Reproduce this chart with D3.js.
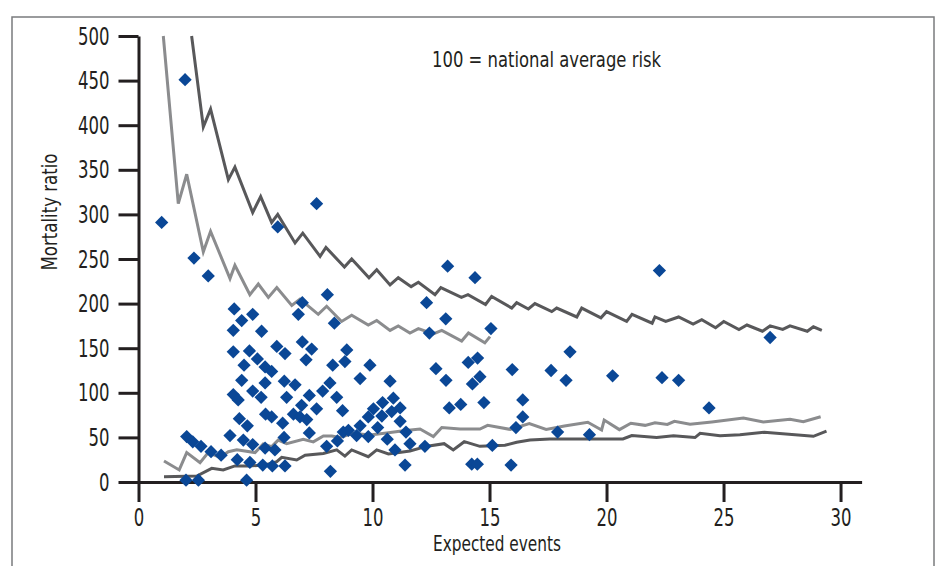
<!DOCTYPE html>
<html>
<head>
<meta charset="utf-8">
<script src="https://cdn.jsdelivr.net/npm/d3@7"></script>
<style>
  html, body { margin: 0; padding: 0; background: #fff; }
  svg { display: block; }
  text { font-family: "DejaVu Sans", "Liberation Sans", sans-serif; font-stretch: condensed; fill: #231f20; }
</style>
</head>
<body>
<svg id="chart" width="936" height="566"></svg>
<script>
// ---------- data ----------
const xTicks = [0, 5, 10, 15, 20, 25, 30];
const yTicks = [0, 50, 100, 150, 200, 250, 300, 350, 400, 450, 500];

// hospitals: expected events vs mortality ratio
const expectedEvents = [
  1.99, 0.99, 5.95, 2.37, 2.98, 7.61,
  4.09, 4.88, 4.41, 4.05, 5.26, 7.0, 6.83, 8.07, 8.37,
  4.05, 4.74, 5.08, 4.51, 5.91, 6.26, 7.0, 7.4, 7.16, 8.9, 8.82, 8.3, 9.89,
  5.41, 5.69, 4.41, 5.41, 6.23, 6.69, 8.18, 7.87, 9.47, 10.75,
  4.05, 4.26, 4.88, 5.24, 6.33, 7.3, 8.47, 6.97, 7.61, 8.72,
  4.31, 5.43, 5.69, 6.62, 6.9, 7.19, 6.16, 4.65, 7.3, 3.91, 4.48, 4.88, 6.22, 5.41, 5.83,
  2.06, 2.32, 2.67, 3.1, 3.53, 4.22, 4.76, 5.31, 5.72, 6.26, 2.03, 2.56, 4.62,
  8.04, 8.2, 8.5, 8.75, 8.97, 9.32, 9.47, 9.82, 9.82, 10.04, 10.22, 10.4, 10.43, 10.63,
  10.82, 10.89, 11.18, 11.18, 10.96, 11.43, 11.6, 11.39, 12.24, 12.31, 12.43,
  13.21, 14.38, 13.13, 15.06, 22.26, 26.99, 18.44, 12.71, 13.14, 14.09, 14.49, 14.59,
  14.27, 15.97, 17.63, 18.27, 20.26, 22.37, 23.08, 24.38, 13.28, 13.77, 14.76, 16.42,
  16.42, 16.13, 17.91, 19.27, 15.12, 14.24, 14.48, 15.92
];
const mortalityRatio = [
  451, 291, 286, 251, 231, 312,
  194, 188, 181, 170, 169, 201, 188, 210, 178,
  146, 147, 138, 131, 152, 144, 157, 149, 137, 148, 135, 131, 131,
  129, 124, 114, 111, 113, 109, 111, 102, 116, 113,
  98, 92, 102, 95, 95, 97, 95, 86, 82, 80,
  71, 76, 73, 76, 73, 70, 66, 63, 55, 52, 47, 42, 50, 38, 36,
  51, 45, 40, 34, 30, 25, 22, 19, 18, 18, 2, 2, 2,
  40, 12, 46, 56, 58, 52, 63, 73, 51, 82, 61, 74, 89, 48,
  79, 94, 83, 68, 36, 56, 43, 19, 40, 201, 167,
  242, 229, 183, 172, 237, 162, 146, 127, 114, 134, 139, 118,
  110, 126, 125, 114, 119, 117, 114, 83, 83, 87, 89, 92,
  73, 61, 56, 53, 41, 20, 20, 19
];

// control limits (funnel)
const upperOuterX = [2.27, 2.77, 3.08, 3.84, 4.12, 4.88, 5.22, 5.69, 5.95, 6.69, 7.02, 7.76, 8.01, 8.80, 9.11, 9.85, 10.18, 10.75, 11.10, 11.65, 11.96, 12.67, 12.92, 13.80, 14.08, 14.83, 15.09, 15.95, 16.16, 16.66, 16.94, 17.66, 17.87, 18.73, 18.94, 19.76, 20.0, 20.86, 21.09, 21.95, 22.07, 22.53, 23.08, 23.7, 24.07, 24.66, 25.01, 25.66, 26.0, 26.66, 26.99, 27.53, 27.84, 28.58, 28.84, 29.2];
const upperOuterY = [500, 398, 418, 339, 353, 302, 320, 291, 300, 268, 279, 253, 263, 241, 250, 229, 238, 221, 229, 219, 224, 210, 218, 207, 210, 199, 208, 195, 201, 194, 200, 191, 195, 185, 195, 184, 191, 180, 188, 178, 185, 180, 185, 177, 182, 173, 180, 171, 176, 169, 175, 171, 175, 169, 174, 170];

const upperInnerX = [1.06, 1.70, 2.06, 2.77, 3.08, 3.91, 4.12, 4.76, 5.12, 5.55, 5.91, 6.55, 6.9, 7.68, 8.04, 8.68, 9.11, 9.82, 10.18, 10.75, 11.1, 11.6, 11.96, 12.6, 12.96, 13.81, 14.1, 14.8, 15.02];
const upperInnerY = [500, 312, 345, 258, 281, 228, 243, 210, 222, 207, 218, 198, 205, 188, 197, 180, 187, 176, 181, 170, 175, 167, 172, 166, 170, 158, 167, 156, 163];

const lowerInnerX = [1.09, 1.74, 2.06, 2.63, 2.98, 3.48, 3.84, 4.2, 4.98, 5.33, 5.69, 5.97, 6.33, 7.04, 7.47, 7.9, 8.26, 8.61, 9.18, 9.89, 10.6, 11.32, 12.03, 12.6, 12.96, 13.74, 14.59, 14.92, 15.88, 16.7, 17.42, 18.2, 19.2, 19.79, 19.9, 20.55, 21.04, 21.65, 22.07, 22.6, 22.9, 23.57, 24.5, 25.85, 26.7, 27.84, 28.41, 29.15];
const lowerInnerY = [23.5, 13.5, 33, 21.7, 33, 27.7, 34, 36, 33, 42.6, 39.6, 47, 43, 48, 45, 51.6, 51.6, 50, 54.6, 52.7, 55, 57.5, 59.4, 51, 61, 59.4, 59.4, 63.5, 59, 65.5, 59, 62.8, 67, 58.3, 69.5, 58.7, 65.8, 63.5, 66.5, 64.5, 68, 64.8, 67.3, 71.7, 67.3, 70.3, 67.6, 73.2];

const lowerOuterX = [1.09, 2.49, 3.13, 3.62, 4.12, 4.69, 5.41, 5.91, 6.12, 6.76, 7.12, 7.9, 8.47, 8.82, 9.11, 9.82, 10.18, 10.68, 11.6, 12.34, 13.06, 13.45, 13.92, 14.59, 15.66, 16.16, 16.73, 17.58, 20.7, 21.08, 22.14, 22.86, 23.78, 24.0, 24.85, 25.7, 26.74, 28.84, 29.4];
const lowerOuterY = [6, 6.7, 15.3, 13.5, 18, 18, 19, 22.8, 27.7, 24.7, 30, 32, 36, 29, 36, 28.4, 36, 31.4, 34.8, 40.2, 43, 35.9, 45.2, 40, 41.3, 44.5, 47, 48.2, 48.2, 52, 49.8, 51.8, 49.8, 54.6, 51.8, 53.1, 55.7, 51.2, 57];

// ---------- chart ----------
const svg = d3.select("#chart");

svg.append("rect")
  .attr("x", 12).attr("y", 17).attr("width", 922).attr("height", 600)
  .attr("fill", "none").attr("stroke", "#7a7b7d").attr("stroke-width", 1.5);

const x = d3.scaleLinear().domain([0, 30.9]).range([138.5, 861.6]);
const y = d3.scaleLinear().domain([0, 500]).range([482, 36]);

const zip = (xs, ys) => xs.map((v, i) => [v, ys[i]]);
const line = d3.line().x(d => x(d[0])).y(d => y(d[1]));

const limits = [
  { pts: zip(lowerOuterX, lowerOuterY), color: "#58585a" },
  { pts: zip(lowerInnerX, lowerInnerY), color: "#8b8c8e" },
  { pts: zip(upperInnerX, upperInnerY), color: "#8b8c8e" },
  { pts: zip(upperOuterX, upperOuterY), color: "#58585a" }
];
svg.append("g").selectAll("path").data(limits).join("path")
  .attr("d", d => line(d.pts))
  .attr("fill", "none")
  .attr("stroke", d => d.color)
  .attr("stroke-width", 3)
  .attr("stroke-linejoin", "miter");

// axes
const yAxis = d3.axisLeft(y).tickValues(yTicks).tickSize(20).tickSizeOuter(0).tickPadding(9);
const xAxis = d3.axisBottom(x).tickValues(xTicks).tickSize(20).tickSizeOuter(0).tickPadding(6);

const gy = svg.append("g").attr("transform", `translate(${x(0)},0)`).call(yAxis);
const gx = svg.append("g").attr("transform", `translate(0,${y(0)})`).call(xAxis);
[gx, gy].forEach(g => {
  g.select(".domain").attr("stroke", "#231f20").attr("stroke-width", 3);
  g.selectAll(".tick line").attr("stroke", "#231f20").attr("stroke-width", 3);
  g.selectAll(".tick text").attr("fill", "#231f20")
    .style("font-size", "25px")
    .style("font-family", '"DejaVu Sans", "Liberation Sans", sans-serif')
    .attr("textLength", function () { return this.textContent.length * 10.5; })
    .attr("lengthAdjust", "spacingAndGlyphs");
});

// points
const pts = zip(expectedEvents, mortalityRatio);
const diamond = d3.symbol().type(d3.symbolSquare).size(88);
svg.append("g").selectAll("path").data(pts).join("path")
  .attr("d", diamond)
  .attr("transform", d => `translate(${x(d[0])},${y(d[1])}) rotate(45)`)
  .attr("fill", "#0a4796");

// labels
svg.append("text")
  .attr("transform", "translate(50,212) rotate(-90)")
  .attr("text-anchor", "middle").attr("dy", "0.35em")
  .style("font-size", "21px")
  .attr("textLength", 117).attr("lengthAdjust", "spacingAndGlyphs")
  .text("Mortality ratio");

svg.append("text")
  .attr("x", 497).attr("y", 544)
  .attr("text-anchor", "middle").attr("dy", "0.35em")
  .style("font-size", "21px")
  .attr("textLength", 128).attr("lengthAdjust", "spacingAndGlyphs")
  .text("Expected events");

svg.append("text")
  .attr("x", 432).attr("y", 60)
  .attr("dy", "0.35em")
  .style("font-size", "21px")
  .attr("textLength", 229).attr("lengthAdjust", "spacingAndGlyphs")
  .text("100 = national average risk");
</script>
</body>
</html>
